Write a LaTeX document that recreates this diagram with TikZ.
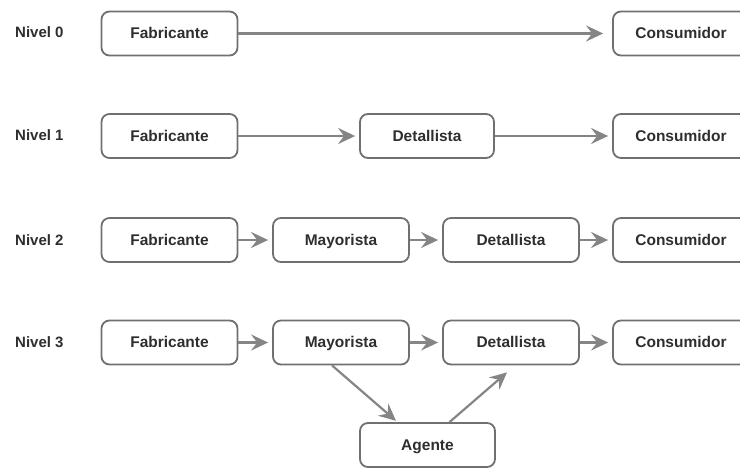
\documentclass[tikz,border=0pt]{standalone}
\usepackage{fontspec}
\setmainfont{Liberation Sans}
\usetikzlibrary{arrows.meta}
\definecolor{boxline}{HTML}{707070}
\definecolor{arrline}{HTML}{858585}
\definecolor{txt}{HTML}{2E2E2E}
\begin{document}
\begin{tikzpicture}[x=1pt,y=-1pt,
  box/.style={draw=boxline,line width=1.8pt,rounded corners=8pt,minimum width=136pt,minimum height=44pt,inner sep=0pt,text height=11pt,text depth=1pt,text=txt,font=\fontsize{15.5}{18}\selectfont\bfseries},
  lvl/.style={anchor=west,inner sep=0pt,text=txt,font=\fontsize{15}{18}\selectfont\bfseries},
  arr/.style={draw=arrline,line width=2.2pt,-{Stealth[length=17pt,width=16pt,inset=6pt]},shorten >=4pt}
]
\useasboundingbox (0,0) rectangle (740,469);
\clip (0,0) rectangle (740,469);
% labels
\node[lvl] (l0) at (15,32) {Nivel 0};
\node[lvl] (l1) at (15,135) {Nivel 1};
\node[lvl] (l2) at (15,240) {Nivel 2};
\node[lvl] (l3) at (15,342) {Nivel 3};
% row 0
\node[box] (f0) at (169.5,33.5) {Fabricante};
\node[box] (c0) at (681,33.5) {Consumidor};
% row 1
\node[box] (f1) at (169.5,136) {Fabricante};
\node[box,minimum width=134pt] (d1) at (427,136) {Detallista};
\node[box] (c1) at (681,136) {Consumidor};
% row 2
\node[box] (f2) at (169.5,240) {Fabricante};
\node[box] (m2) at (341,240) {Mayorista};
\node[box] (d2) at (511,240) {Detallista};
\node[box] (c2) at (681,240) {Consumidor};
% row 3
\node[box] (f3) at (169.5,342.5) {Fabricante};
\node[box] (m3) at (341,342.5) {Mayorista};
\node[box] (d3) at (511,342.5) {Detallista};
\node[box] (c3) at (681,342.5) {Consumidor};
\node[box,minimum width=135pt] (ag) at (427.5,445) {Agente};
% connectors
\draw[arr,shorten >=9pt] (f0) -- (c0);
\draw[arr] (f1) -- (d1);
\draw[arr] (d1) -- (c1);
\draw[arr] (f2) -- (m2);
\draw[arr] (m2) -- (d2);
\draw[arr] (d2) -- (c2);
\draw[arr] (f3) -- (m3);
\draw[arr] (m3) -- (d3);
\draw[arr] (d3) -- (c3);
\coordinate (m3s) at ([xshift=-9pt]m3.south);
\coordinate (agn) at ([xshift=-30pt]ag.north);
\coordinate (ags) at ([xshift=22pt]ag.north);
\coordinate (d3e) at ([xshift=-4pt,yshift=-7pt]d3.south);
\draw[arr,shorten >=2pt] (m3s) -- (agn);
\draw[arr,shorten >=0pt] (ags) -- (d3e);
\end{tikzpicture}
\end{document}
